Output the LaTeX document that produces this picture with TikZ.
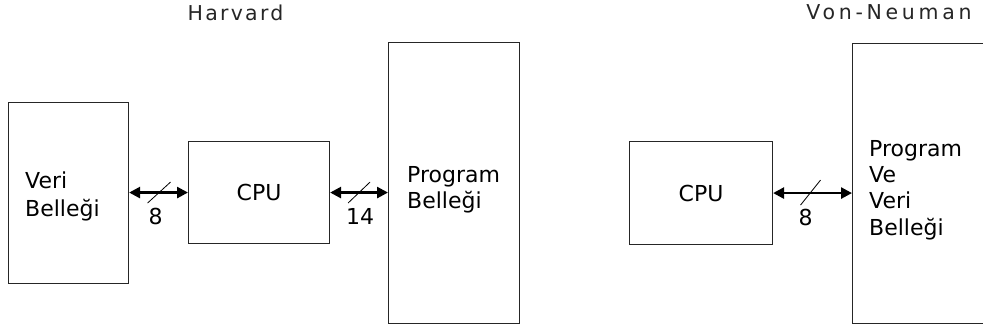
\documentclass[tikz,border=0pt]{standalone}
\usepackage{fontspec}
\setmainfont{DejaVu Sans}
\newfontfamily\harvfont[LetterSpace=11]{DejaVu Sans}
\newfontfamily\vonfont[LetterSpace=18]{DejaVu Sans}
\usetikzlibrary{arrows.meta,calc}
\begin{document}
\begin{tikzpicture}[x=1pt,y=-1pt,
  box/.style={draw=black!85,line width=1.1pt,inner sep=0pt,anchor=north west},
  body/.style={font=\fontsize{22}{26}\selectfont,text=black},
  line/.style={body,anchor=base west,inner sep=0pt},
  title/.style={anchor=base,inner sep=0pt,text=black!85},
  bus/.style={line width=2.6pt,draw=black,{Triangle[length=11pt,width=11pt]}-{Triangle[length=11pt,width=11pt]}},
  slash/.style={line width=0.8pt,draw=black},
  width/.style={body,inner sep=0pt,anchor=center}
]
\useasboundingbox (0,0) rectangle (983,333);
\clip (0,0) rectangle (983,333);

% titles
\node[title,font=\fontsize{20.5}{24}\harvfont] (harvard) at (235.5,20) {Harvard};
\node[title,font=\fontsize{20.5}{24}\vonfont] (vonneuman) at (889,19) {Von-Neuman};

% Harvard architecture
\node[box,minimum width=120pt,minimum height=181pt] (veri) at (8,102) {};
\node[box,body,minimum width=141pt,minimum height=102pt] (cpuA) at (188,141) {CPU};
\node[box,minimum width=131pt,minimum height=281pt] (prog) at (388,42) {};

\node[line] (veriA) at (25,188) {Veri};
\node[line] (veriB) at (25,216) {Belleği};
\node[line] (progA) at (407,182) {Program};
\node[line] (progB) at (407,208) {Belleği};

\draw[bus] (veri.east |- cpuA.west) -- (cpuA.west)
  coordinate[pos=0.5] (m1);
\draw[bus] (cpuA.east) -- (cpuA.east -| prog.west)
  coordinate[pos=0.5] (m2);
\draw[slash] ($(m1)+(-11,10.5)$) -- ($(m1)+(12,-10.5)$);
\draw[slash] ($(m2)+(-11,10.5)$) -- ($(m2)+(11,-10.5)$);
\node[width] (w1) at ($(m1)+(-3,24)$) {8};
\node[width] (w2) at ($(m2)+(1,24)$) {14};

% Von-Neumann architecture
\node[box,body,minimum width=143pt,minimum height=103pt] (cpuB) at (629,141) {CPU};
\node[box,minimum width=200pt,minimum height=280pt] (mem) at (852,43) {};

\node[line] (memA) at (869,156) {Program};
\node[line] (memB) at (869,182) {Ve};
\node[line] (memC) at (869,208) {Veri};
\node[line] (memD) at (869,235) {Belleği};

\draw[bus] (cpuB.east) -- (cpuB.east -| mem.west)
  coordinate[pos=0.5] (m3);
\draw[slash] ($(m3)+(-12,12)$) -- ($(m3)+(8,-13)$);
\node[width] (w3) at ($(m3)+(-7,24)$) {8};
\end{tikzpicture}
\end{document}
